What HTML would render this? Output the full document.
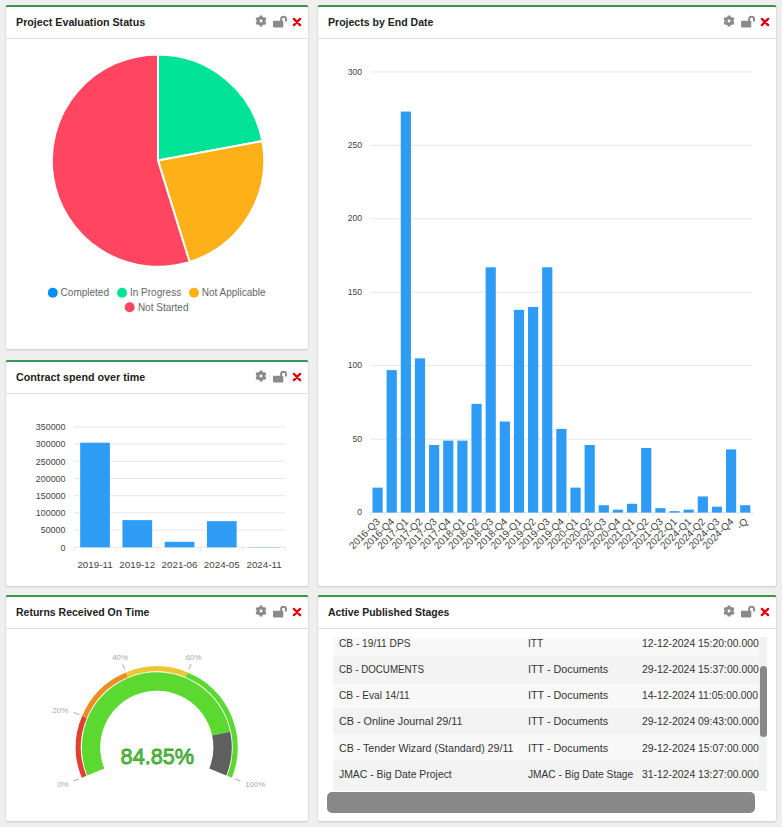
<!DOCTYPE html>
<html><head><meta charset="utf-8">
<style>
html,body{margin:0;padding:0;}
body{width:782px;height:827px;background:#efefef;position:relative;overflow:hidden;font-family:"Liberation Sans",sans-serif;}
.panel{position:absolute;box-sizing:border-box;background:#fff;border:1px solid #dedede;border-bottom-color:#d2d2d2;border-top:2px solid #3a964e;border-radius:3px;box-shadow:0 1px 1px rgba(0,0,0,0.05);}
.hdr{position:absolute;left:0;right:0;top:0;height:31px;border-bottom:1px solid #dddddd;}
.ttl{position:absolute;left:10.2px;top:9px;transform-origin:0 0;font-size:11px;font-weight:bold;color:#222;white-space:nowrap;line-height:13px;}
.ico{position:absolute;top:0;}
.ov{position:absolute;left:0;top:0;}
.tbl{position:absolute;left:333px;top:637px;width:426px;height:154px;overflow:hidden;}
.row{position:absolute;left:0;height:26.2px;width:426px;font-size:10.5px;color:#333;}
.row span{position:absolute;top:0;line-height:26.2px;white-space:nowrap;transform-origin:0 0;}
.c1{left:0;width:191px;}
.c2{left:191px;width:111px;}
.c3{left:302px;width:140px;}
.cell{position:absolute;top:0;height:26.2px;}
</style></head><body>
<!-- panels -->
<div class="panel" style="left:5px;top:5px;width:304px;height:345px;"><div class="hdr"></div><div class="ttl" style="transform:scaleX(0.974)">Project Evaluation Status</div></div>
<div class="panel" style="left:317px;top:5px;width:460px;height:582px;"><div class="hdr"></div><div class="ttl" style="transform:scaleX(0.958)">Projects by End Date</div></div>
<div class="panel" style="left:5px;top:360px;width:304px;height:227px;"><div class="hdr"></div><div class="ttl" style="transform:scaleX(0.974)">Contract spend over time</div></div>
<div class="panel" style="left:5px;top:595px;width:304px;height:227px;"><div class="hdr"></div><div class="ttl" style="transform:scaleX(0.954)">Returns Received On Time</div></div>
<div class="panel" style="left:317px;top:595px;width:460px;height:227px;"><div class="hdr"></div><div class="ttl" style="transform:scaleX(0.949)">Active Published Stages</div></div>
<svg class="ico" style="left:253.85px;top:14.45px" width="14" height="14" viewBox="-7 -7 14 14"><path d="M-1.83,-4.11 L-1.47,-4.25 L-1.38,-5.53 L1.38,-5.53 L1.47,-4.25 L1.83,-4.11 L2.65,-3.64 L2.95,-3.40 L4.10,-3.96 L5.48,-1.57 L4.42,-0.86 L4.48,-0.47 L4.48,0.47 L4.42,0.86 L5.48,1.57 L4.10,3.96 L2.95,3.40 L2.65,3.64 L1.83,4.11 L1.47,4.25 L1.38,5.53 L-1.38,5.53 L-1.47,4.25 L-1.83,4.11 L-2.65,3.64 L-2.95,3.40 L-4.10,3.96 L-5.48,1.57 L-4.42,0.86 L-4.48,0.47 L-4.48,-0.47 L-4.42,-0.86 L-5.48,-1.57 L-4.10,-3.96 L-2.95,-3.40 L-2.65,-3.64Z M1.45,0 A1.45,1.45 0 1 0 -1.45,0 A1.45,1.45 0 1 0 1.45,0Z" fill="#8a8a8a" fill-rule="evenodd"/></svg>
<svg class="ico" style="left:273.20px;top:14.45px" width="16" height="14" viewBox="0 0 16 14"><rect x="0" y="6.8" width="10.3" height="6.6" rx="0.8" fill="#8a8a8a"/><path d="M8.1 7 V5.3 A2.45 2.45 0 0 1 13.0 5.3 V7.6" fill="none" stroke="#8a8a8a" stroke-width="2"/></svg>
<svg class="ico" style="left:292.00px;top:16.85px" width="10" height="10" viewBox="0 0 10 10"><path d="M1.9 1.9 L8.1 8.1 M8.1 1.9 L1.9 8.1" stroke="#e5000f" stroke-width="2.3" stroke-linecap="round"/></svg><svg class="ico" style="left:721.85px;top:14.45px" width="14" height="14" viewBox="-7 -7 14 14"><path d="M-1.83,-4.11 L-1.47,-4.25 L-1.38,-5.53 L1.38,-5.53 L1.47,-4.25 L1.83,-4.11 L2.65,-3.64 L2.95,-3.40 L4.10,-3.96 L5.48,-1.57 L4.42,-0.86 L4.48,-0.47 L4.48,0.47 L4.42,0.86 L5.48,1.57 L4.10,3.96 L2.95,3.40 L2.65,3.64 L1.83,4.11 L1.47,4.25 L1.38,5.53 L-1.38,5.53 L-1.47,4.25 L-1.83,4.11 L-2.65,3.64 L-2.95,3.40 L-4.10,3.96 L-5.48,1.57 L-4.42,0.86 L-4.48,0.47 L-4.48,-0.47 L-4.42,-0.86 L-5.48,-1.57 L-4.10,-3.96 L-2.95,-3.40 L-2.65,-3.64Z M1.45,0 A1.45,1.45 0 1 0 -1.45,0 A1.45,1.45 0 1 0 1.45,0Z" fill="#8a8a8a" fill-rule="evenodd"/></svg>
<svg class="ico" style="left:741.20px;top:14.45px" width="16" height="14" viewBox="0 0 16 14"><rect x="0" y="6.8" width="10.3" height="6.6" rx="0.8" fill="#8a8a8a"/><path d="M8.1 7 V5.3 A2.45 2.45 0 0 1 13.0 5.3 V7.6" fill="none" stroke="#8a8a8a" stroke-width="2"/></svg>
<svg class="ico" style="left:760.00px;top:16.85px" width="10" height="10" viewBox="0 0 10 10"><path d="M1.9 1.9 L8.1 8.1 M8.1 1.9 L1.9 8.1" stroke="#e5000f" stroke-width="2.3" stroke-linecap="round"/></svg><svg class="ico" style="left:253.85px;top:369.45px" width="14" height="14" viewBox="-7 -7 14 14"><path d="M-1.83,-4.11 L-1.47,-4.25 L-1.38,-5.53 L1.38,-5.53 L1.47,-4.25 L1.83,-4.11 L2.65,-3.64 L2.95,-3.40 L4.10,-3.96 L5.48,-1.57 L4.42,-0.86 L4.48,-0.47 L4.48,0.47 L4.42,0.86 L5.48,1.57 L4.10,3.96 L2.95,3.40 L2.65,3.64 L1.83,4.11 L1.47,4.25 L1.38,5.53 L-1.38,5.53 L-1.47,4.25 L-1.83,4.11 L-2.65,3.64 L-2.95,3.40 L-4.10,3.96 L-5.48,1.57 L-4.42,0.86 L-4.48,0.47 L-4.48,-0.47 L-4.42,-0.86 L-5.48,-1.57 L-4.10,-3.96 L-2.95,-3.40 L-2.65,-3.64Z M1.45,0 A1.45,1.45 0 1 0 -1.45,0 A1.45,1.45 0 1 0 1.45,0Z" fill="#8a8a8a" fill-rule="evenodd"/></svg>
<svg class="ico" style="left:273.20px;top:369.45px" width="16" height="14" viewBox="0 0 16 14"><rect x="0" y="6.8" width="10.3" height="6.6" rx="0.8" fill="#8a8a8a"/><path d="M8.1 7 V5.3 A2.45 2.45 0 0 1 13.0 5.3 V7.6" fill="none" stroke="#8a8a8a" stroke-width="2"/></svg>
<svg class="ico" style="left:292.00px;top:371.85px" width="10" height="10" viewBox="0 0 10 10"><path d="M1.9 1.9 L8.1 8.1 M8.1 1.9 L1.9 8.1" stroke="#e5000f" stroke-width="2.3" stroke-linecap="round"/></svg><svg class="ico" style="left:253.85px;top:604.45px" width="14" height="14" viewBox="-7 -7 14 14"><path d="M-1.83,-4.11 L-1.47,-4.25 L-1.38,-5.53 L1.38,-5.53 L1.47,-4.25 L1.83,-4.11 L2.65,-3.64 L2.95,-3.40 L4.10,-3.96 L5.48,-1.57 L4.42,-0.86 L4.48,-0.47 L4.48,0.47 L4.42,0.86 L5.48,1.57 L4.10,3.96 L2.95,3.40 L2.65,3.64 L1.83,4.11 L1.47,4.25 L1.38,5.53 L-1.38,5.53 L-1.47,4.25 L-1.83,4.11 L-2.65,3.64 L-2.95,3.40 L-4.10,3.96 L-5.48,1.57 L-4.42,0.86 L-4.48,0.47 L-4.48,-0.47 L-4.42,-0.86 L-5.48,-1.57 L-4.10,-3.96 L-2.95,-3.40 L-2.65,-3.64Z M1.45,0 A1.45,1.45 0 1 0 -1.45,0 A1.45,1.45 0 1 0 1.45,0Z" fill="#8a8a8a" fill-rule="evenodd"/></svg>
<svg class="ico" style="left:273.20px;top:604.45px" width="16" height="14" viewBox="0 0 16 14"><rect x="0" y="6.8" width="10.3" height="6.6" rx="0.8" fill="#8a8a8a"/><path d="M8.1 7 V5.3 A2.45 2.45 0 0 1 13.0 5.3 V7.6" fill="none" stroke="#8a8a8a" stroke-width="2"/></svg>
<svg class="ico" style="left:292.00px;top:606.85px" width="10" height="10" viewBox="0 0 10 10"><path d="M1.9 1.9 L8.1 8.1 M8.1 1.9 L1.9 8.1" stroke="#e5000f" stroke-width="2.3" stroke-linecap="round"/></svg><svg class="ico" style="left:721.85px;top:604.45px" width="14" height="14" viewBox="-7 -7 14 14"><path d="M-1.83,-4.11 L-1.47,-4.25 L-1.38,-5.53 L1.38,-5.53 L1.47,-4.25 L1.83,-4.11 L2.65,-3.64 L2.95,-3.40 L4.10,-3.96 L5.48,-1.57 L4.42,-0.86 L4.48,-0.47 L4.48,0.47 L4.42,0.86 L5.48,1.57 L4.10,3.96 L2.95,3.40 L2.65,3.64 L1.83,4.11 L1.47,4.25 L1.38,5.53 L-1.38,5.53 L-1.47,4.25 L-1.83,4.11 L-2.65,3.64 L-2.95,3.40 L-4.10,3.96 L-5.48,1.57 L-4.42,0.86 L-4.48,0.47 L-4.48,-0.47 L-4.42,-0.86 L-5.48,-1.57 L-4.10,-3.96 L-2.95,-3.40 L-2.65,-3.64Z M1.45,0 A1.45,1.45 0 1 0 -1.45,0 A1.45,1.45 0 1 0 1.45,0Z" fill="#8a8a8a" fill-rule="evenodd"/></svg>
<svg class="ico" style="left:741.20px;top:604.45px" width="16" height="14" viewBox="0 0 16 14"><rect x="0" y="6.8" width="10.3" height="6.6" rx="0.8" fill="#8a8a8a"/><path d="M8.1 7 V5.3 A2.45 2.45 0 0 1 13.0 5.3 V7.6" fill="none" stroke="#8a8a8a" stroke-width="2"/></svg>
<svg class="ico" style="left:760.00px;top:606.85px" width="10" height="10" viewBox="0 0 10 10"><path d="M1.9 1.9 L8.1 8.1 M8.1 1.9 L1.9 8.1" stroke="#e5000f" stroke-width="2.3" stroke-linecap="round"/></svg>
<!-- table -->
<div class="tbl">
<div class="row" style="top:-7.40px;height:26.3px;background:#f9f9f9"><span style="top:0.80px;left:5.6px;transform:scaleX(0.966)">CB - 19/11 DPS</span><span style="top:0.80px;left:195.4px;transform:scaleX(0.967)">ITT</span><span style="top:0.80px;left:309.2px;transform:scaleX(0.99)">12-12-2024 15:20:00.000</span></div>
<div class="row" style="top:18.90px;height:28.1px;background:#f3f3f3"><span style="top:0.30px;left:5.6px;transform:scaleX(0.928)">CB - DOCUMENTS</span><span style="top:0.30px;left:195.4px;transform:scaleX(1.027)">ITT - Documents</span><span style="top:0.30px;left:309.2px;transform:scaleX(0.99)">29-12-2024 15:37:00.000</span></div>
<div class="row" style="top:47.00px;height:24.3px;background:#f9f9f9"><span style="top:-1.60px;left:5.6px;transform:scaleX(0.971)">CB - Eval 14/11</span><span style="top:-1.60px;left:195.4px;transform:scaleX(1.027)">ITT - Documents</span><span style="top:-1.60px;left:309.2px;transform:scaleX(0.99)">14-12-2024 11:05:00.000</span></div>
<div class="row" style="top:71.30px;height:27.1px;background:#f3f3f3"><span style="top:0.20px;left:5.6px;transform:scaleX(1.029)">CB - Online Journal 29/11</span><span style="top:0.20px;left:195.4px;transform:scaleX(1.027)">ITT - Documents</span><span style="top:0.20px;left:309.2px;transform:scaleX(0.99)">29-12-2024 09:43:00.000</span></div>
<div class="row" style="top:98.40px;height:24.8px;background:#f9f9f9"><span style="top:-0.30px;left:5.6px;transform:scaleX(1.012)">CB - Tender Wizard (Standard) 29/11</span><span style="top:-0.30px;left:195.4px;transform:scaleX(1.027)">ITT - Documents</span><span style="top:-0.30px;left:309.2px;transform:scaleX(0.99)">29-12-2024 15:07:00.000</span></div>
<div class="row" style="top:123.20px;height:35px;background:#f3f3f3"><span style="top:1.00px;left:5.6px;transform:scaleX(0.991)">JMAC - Big Date Project</span><span style="top:1.00px;left:195.4px;transform:scaleX(0.969)">JMAC - Big Date Stage</span><span style="top:1.00px;left:309.2px;transform:scaleX(0.99)">31-12-2024 13:27:00.000</span></div>

</div>
<div style="position:absolute;left:759px;top:637px;width:8px;height:154px;background:#f1f1f1;"></div>
<div style="position:absolute;left:759.5px;top:666px;width:7.5px;height:71px;background:#888;border-radius:4px;"></div>
<div style="position:absolute;left:327px;top:792px;width:428px;height:21px;background:#888;border-radius:5px;"></div>
<svg class="ov" width="782" height="827" viewBox="0 0 782 827" style="font-family:'Liberation Sans', sans-serif"><path d="M158.0,160.6 L158.00,54.40 A106.2,106.2 0 0 1 262.39,141.06 Z" fill="#00E396" stroke="#fff" stroke-width="2" stroke-linejoin="round"/>
<path d="M158.0,160.6 L262.39,141.06 A106.2,106.2 0 0 1 189.58,262.00 Z" fill="#FEB019" stroke="#fff" stroke-width="2" stroke-linejoin="round"/>
<path d="M158.0,160.6 L189.58,262.00 A106.2,106.2 0 1 1 158.00,54.40 Z" fill="#FF4560" stroke="#fff" stroke-width="2" stroke-linejoin="round"/>
<circle cx="52.8" cy="292.7" r="5" fill="#008FFB"/>
<text x="60.6" y="296.3" font-size="10" fill="#666">Completed</text>
<circle cx="122.1" cy="292.7" r="5" fill="#00E396"/>
<text x="130" y="296.3" font-size="10" fill="#666">In Progress</text>
<circle cx="194" cy="292.7" r="5" fill="#FEB019"/>
<text x="201.7" y="296.3" font-size="10" fill="#666">Not Applicable</text>
<circle cx="129.7" cy="307.2" r="5" fill="#FF4560"/>
<text x="137.9" y="310.8" font-size="10" fill="#666">Not Started</text>
<line x1="370.5" y1="512.60" x2="752.3" y2="512.60" stroke="#e6e6e6" stroke-width="1"/>
<text x="362.2" y="515.20" font-size="9.4" fill="#444" text-anchor="end" textLength="4.85" lengthAdjust="spacingAndGlyphs">0</text>
<line x1="370.5" y1="439.15" x2="752.3" y2="439.15" stroke="#e6e6e6" stroke-width="1"/>
<text x="362.2" y="441.75" font-size="9.4" fill="#444" text-anchor="end" textLength="9.70" lengthAdjust="spacingAndGlyphs">50</text>
<line x1="370.5" y1="365.70" x2="752.3" y2="365.70" stroke="#e6e6e6" stroke-width="1"/>
<text x="362.2" y="368.30" font-size="9.4" fill="#444" text-anchor="end" textLength="14.55" lengthAdjust="spacingAndGlyphs">100</text>
<line x1="370.5" y1="292.25" x2="752.3" y2="292.25" stroke="#e6e6e6" stroke-width="1"/>
<text x="362.2" y="294.85" font-size="9.4" fill="#444" text-anchor="end" textLength="14.55" lengthAdjust="spacingAndGlyphs">150</text>
<line x1="370.5" y1="218.80" x2="752.3" y2="218.80" stroke="#e6e6e6" stroke-width="1"/>
<text x="362.2" y="221.40" font-size="9.4" fill="#444" text-anchor="end" textLength="14.55" lengthAdjust="spacingAndGlyphs">200</text>
<line x1="370.5" y1="145.35" x2="752.3" y2="145.35" stroke="#e6e6e6" stroke-width="1"/>
<text x="362.2" y="147.95" font-size="9.4" fill="#444" text-anchor="end" textLength="14.55" lengthAdjust="spacingAndGlyphs">250</text>
<line x1="370.5" y1="71.90" x2="752.3" y2="71.90" stroke="#e6e6e6" stroke-width="1"/>
<text x="362.2" y="74.50" font-size="9.4" fill="#444" text-anchor="end" textLength="14.55" lengthAdjust="spacingAndGlyphs">300</text>
<line x1="370.50" y1="512.6" x2="370.50" y2="515.6" stroke="#e6e6e6" stroke-width="1"/>
<line x1="384.64" y1="512.6" x2="384.64" y2="515.6" stroke="#e6e6e6" stroke-width="1"/>
<line x1="398.78" y1="512.6" x2="398.78" y2="515.6" stroke="#e6e6e6" stroke-width="1"/>
<line x1="412.92" y1="512.6" x2="412.92" y2="515.6" stroke="#e6e6e6" stroke-width="1"/>
<line x1="427.06" y1="512.6" x2="427.06" y2="515.6" stroke="#e6e6e6" stroke-width="1"/>
<line x1="441.20" y1="512.6" x2="441.20" y2="515.6" stroke="#e6e6e6" stroke-width="1"/>
<line x1="455.34" y1="512.6" x2="455.34" y2="515.6" stroke="#e6e6e6" stroke-width="1"/>
<line x1="469.49" y1="512.6" x2="469.49" y2="515.6" stroke="#e6e6e6" stroke-width="1"/>
<line x1="483.63" y1="512.6" x2="483.63" y2="515.6" stroke="#e6e6e6" stroke-width="1"/>
<line x1="497.77" y1="512.6" x2="497.77" y2="515.6" stroke="#e6e6e6" stroke-width="1"/>
<line x1="511.91" y1="512.6" x2="511.91" y2="515.6" stroke="#e6e6e6" stroke-width="1"/>
<line x1="526.05" y1="512.6" x2="526.05" y2="515.6" stroke="#e6e6e6" stroke-width="1"/>
<line x1="540.19" y1="512.6" x2="540.19" y2="515.6" stroke="#e6e6e6" stroke-width="1"/>
<line x1="554.33" y1="512.6" x2="554.33" y2="515.6" stroke="#e6e6e6" stroke-width="1"/>
<line x1="568.47" y1="512.6" x2="568.47" y2="515.6" stroke="#e6e6e6" stroke-width="1"/>
<line x1="582.61" y1="512.6" x2="582.61" y2="515.6" stroke="#e6e6e6" stroke-width="1"/>
<line x1="596.75" y1="512.6" x2="596.75" y2="515.6" stroke="#e6e6e6" stroke-width="1"/>
<line x1="610.89" y1="512.6" x2="610.89" y2="515.6" stroke="#e6e6e6" stroke-width="1"/>
<line x1="625.03" y1="512.6" x2="625.03" y2="515.6" stroke="#e6e6e6" stroke-width="1"/>
<line x1="639.17" y1="512.6" x2="639.17" y2="515.6" stroke="#e6e6e6" stroke-width="1"/>
<line x1="653.31" y1="512.6" x2="653.31" y2="515.6" stroke="#e6e6e6" stroke-width="1"/>
<line x1="667.46" y1="512.6" x2="667.46" y2="515.6" stroke="#e6e6e6" stroke-width="1"/>
<line x1="681.60" y1="512.6" x2="681.60" y2="515.6" stroke="#e6e6e6" stroke-width="1"/>
<line x1="695.74" y1="512.6" x2="695.74" y2="515.6" stroke="#e6e6e6" stroke-width="1"/>
<line x1="709.88" y1="512.6" x2="709.88" y2="515.6" stroke="#e6e6e6" stroke-width="1"/>
<line x1="724.02" y1="512.6" x2="724.02" y2="515.6" stroke="#e6e6e6" stroke-width="1"/>
<line x1="738.16" y1="512.6" x2="738.16" y2="515.6" stroke="#e6e6e6" stroke-width="1"/>
<line x1="752.30" y1="512.6" x2="752.30" y2="515.6" stroke="#e6e6e6" stroke-width="1"/>
<rect x="372.48" y="487.63" width="10.18" height="24.97" fill="#2E9BF5"/>
<text transform="translate(380.77,522.20) rotate(-45)" font-size="10" fill="#444" text-anchor="end">2016-Q3</text>
<rect x="386.62" y="370.11" width="10.18" height="142.49" fill="#2E9BF5"/>
<text transform="translate(394.91,522.20) rotate(-45)" font-size="10" fill="#444" text-anchor="end">2016-Q4</text>
<rect x="400.76" y="111.56" width="10.18" height="401.04" fill="#2E9BF5"/>
<text transform="translate(409.05,522.20) rotate(-45)" font-size="10" fill="#444" text-anchor="end">2017-Q1</text>
<rect x="414.90" y="358.36" width="10.18" height="154.25" fill="#2E9BF5"/>
<text transform="translate(423.19,522.20) rotate(-45)" font-size="10" fill="#444" text-anchor="end">2017-Q2</text>
<rect x="429.04" y="445.03" width="10.18" height="67.57" fill="#2E9BF5"/>
<text transform="translate(437.33,522.20) rotate(-45)" font-size="10" fill="#444" text-anchor="end">2017-Q3</text>
<rect x="443.18" y="440.62" width="10.18" height="71.98" fill="#2E9BF5"/>
<text transform="translate(451.47,522.20) rotate(-45)" font-size="10" fill="#444" text-anchor="end">2017-Q4</text>
<rect x="457.32" y="440.62" width="10.18" height="71.98" fill="#2E9BF5"/>
<text transform="translate(465.61,522.20) rotate(-45)" font-size="10" fill="#444" text-anchor="end">2018-Q1</text>
<rect x="471.46" y="403.89" width="10.18" height="108.71" fill="#2E9BF5"/>
<text transform="translate(479.76,522.20) rotate(-45)" font-size="10" fill="#444" text-anchor="end">2018-Q2</text>
<rect x="485.61" y="267.28" width="10.18" height="245.32" fill="#2E9BF5"/>
<text transform="translate(493.90,522.20) rotate(-45)" font-size="10" fill="#444" text-anchor="end">2018-Q3</text>
<rect x="499.75" y="421.52" width="10.18" height="91.08" fill="#2E9BF5"/>
<text transform="translate(508.04,522.20) rotate(-45)" font-size="10" fill="#444" text-anchor="end">2018-Q4</text>
<rect x="513.89" y="309.88" width="10.18" height="202.72" fill="#2E9BF5"/>
<text transform="translate(522.18,522.20) rotate(-45)" font-size="10" fill="#444" text-anchor="end">2019-Q1</text>
<rect x="528.03" y="306.94" width="10.18" height="205.66" fill="#2E9BF5"/>
<text transform="translate(536.32,522.20) rotate(-45)" font-size="10" fill="#444" text-anchor="end">2019-Q2</text>
<rect x="542.17" y="267.28" width="10.18" height="245.32" fill="#2E9BF5"/>
<text transform="translate(550.46,522.20) rotate(-45)" font-size="10" fill="#444" text-anchor="end">2019-Q3</text>
<rect x="556.31" y="428.87" width="10.18" height="83.73" fill="#2E9BF5"/>
<text transform="translate(564.60,522.20) rotate(-45)" font-size="10" fill="#444" text-anchor="end">2019-Q4</text>
<rect x="570.45" y="487.63" width="10.18" height="24.97" fill="#2E9BF5"/>
<text transform="translate(578.74,522.20) rotate(-45)" font-size="10" fill="#444" text-anchor="end">2020-Q1</text>
<rect x="584.59" y="445.03" width="10.18" height="67.57" fill="#2E9BF5"/>
<text transform="translate(592.88,522.20) rotate(-45)" font-size="10" fill="#444" text-anchor="end">2020-Q2</text>
<rect x="598.73" y="505.25" width="10.18" height="7.35" fill="#2E9BF5"/>
<text transform="translate(607.02,522.20) rotate(-45)" font-size="10" fill="#444" text-anchor="end">2020-Q3</text>
<rect x="612.87" y="509.66" width="10.18" height="2.94" fill="#2E9BF5"/>
<text transform="translate(621.16,522.20) rotate(-45)" font-size="10" fill="#444" text-anchor="end">2020-Q4</text>
<rect x="627.01" y="503.79" width="10.18" height="8.81" fill="#2E9BF5"/>
<text transform="translate(635.30,522.20) rotate(-45)" font-size="10" fill="#444" text-anchor="end">2021-Q1</text>
<rect x="641.15" y="447.96" width="10.18" height="64.64" fill="#2E9BF5"/>
<text transform="translate(649.44,522.20) rotate(-45)" font-size="10" fill="#444" text-anchor="end">2021-Q2</text>
<rect x="655.29" y="508.19" width="10.18" height="4.41" fill="#2E9BF5"/>
<text transform="translate(663.59,522.20) rotate(-45)" font-size="10" fill="#444" text-anchor="end">2021-Q3</text>
<rect x="669.44" y="511.13" width="10.18" height="1.47" fill="#2E9BF5"/>
<text transform="translate(677.73,522.20) rotate(-45)" font-size="10" fill="#444" text-anchor="end">2022-Q1</text>
<rect x="683.58" y="509.66" width="10.18" height="2.94" fill="#2E9BF5"/>
<text transform="translate(691.87,522.20) rotate(-45)" font-size="10" fill="#444" text-anchor="end">2024-Q1</text>
<rect x="697.72" y="496.44" width="10.18" height="16.16" fill="#2E9BF5"/>
<text transform="translate(706.01,522.20) rotate(-45)" font-size="10" fill="#444" text-anchor="end">2024-Q2</text>
<rect x="711.86" y="506.72" width="10.18" height="5.88" fill="#2E9BF5"/>
<text transform="translate(720.15,522.20) rotate(-45)" font-size="10" fill="#444" text-anchor="end">2024-Q3</text>
<rect x="726.00" y="449.43" width="10.18" height="63.17" fill="#2E9BF5"/>
<text transform="translate(734.29,522.20) rotate(-45)" font-size="10" fill="#444" text-anchor="end">2024-Q4</text>
<rect x="740.14" y="505.25" width="10.18" height="7.35" fill="#2E9BF5"/>
<text transform="translate(748.43,522.20) rotate(-45)" font-size="10" fill="#444" text-anchor="end">-Q</text>
<line x1="73.9" y1="547.30" x2="285.2" y2="547.30" stroke="#e6e6e6" stroke-width="1"/>
<text x="65.5" y="550.60" font-size="9.6" fill="#444" text-anchor="end" textLength="5.0" lengthAdjust="spacingAndGlyphs">0</text>
<line x1="73.9" y1="530.10" x2="285.2" y2="530.10" stroke="#e6e6e6" stroke-width="1"/>
<text x="65.5" y="533.40" font-size="9.6" fill="#444" text-anchor="end" textLength="24.8" lengthAdjust="spacingAndGlyphs">50000</text>
<line x1="73.9" y1="512.90" x2="285.2" y2="512.90" stroke="#e6e6e6" stroke-width="1"/>
<text x="65.5" y="516.20" font-size="9.6" fill="#444" text-anchor="end" textLength="29.7" lengthAdjust="spacingAndGlyphs">100000</text>
<line x1="73.9" y1="495.70" x2="285.2" y2="495.70" stroke="#e6e6e6" stroke-width="1"/>
<text x="65.5" y="499.00" font-size="9.6" fill="#444" text-anchor="end" textLength="29.7" lengthAdjust="spacingAndGlyphs">150000</text>
<line x1="73.9" y1="478.50" x2="285.2" y2="478.50" stroke="#e6e6e6" stroke-width="1"/>
<text x="65.5" y="481.80" font-size="9.6" fill="#444" text-anchor="end" textLength="29.7" lengthAdjust="spacingAndGlyphs">200000</text>
<line x1="73.9" y1="461.30" x2="285.2" y2="461.30" stroke="#e6e6e6" stroke-width="1"/>
<text x="65.5" y="464.60" font-size="9.6" fill="#444" text-anchor="end" textLength="29.7" lengthAdjust="spacingAndGlyphs">250000</text>
<line x1="73.9" y1="444.10" x2="285.2" y2="444.10" stroke="#e6e6e6" stroke-width="1"/>
<text x="65.5" y="447.40" font-size="9.6" fill="#444" text-anchor="end" textLength="29.7" lengthAdjust="spacingAndGlyphs">300000</text>
<line x1="73.9" y1="426.90" x2="285.2" y2="426.90" stroke="#e6e6e6" stroke-width="1"/>
<text x="65.5" y="430.20" font-size="9.6" fill="#444" text-anchor="end" textLength="29.7" lengthAdjust="spacingAndGlyphs">350000</text>
<line x1="73.90" y1="547.3" x2="73.90" y2="551.3" stroke="#e6e6e6" stroke-width="1"/>
<line x1="116.16" y1="547.3" x2="116.16" y2="551.3" stroke="#e6e6e6" stroke-width="1"/>
<line x1="158.42" y1="547.3" x2="158.42" y2="551.3" stroke="#e6e6e6" stroke-width="1"/>
<line x1="200.68" y1="547.3" x2="200.68" y2="551.3" stroke="#e6e6e6" stroke-width="1"/>
<line x1="242.94" y1="547.3" x2="242.94" y2="551.3" stroke="#e6e6e6" stroke-width="1"/>
<line x1="285.20" y1="547.3" x2="285.20" y2="551.3" stroke="#e6e6e6" stroke-width="1"/>
<rect x="80.18" y="442.72" width="29.70" height="104.58" fill="#2E9BF5"/>
<text x="95.03" y="568.10" font-size="9.8" fill="#444" text-anchor="middle">2019-11</text>
<rect x="122.44" y="520.12" width="29.70" height="27.18" fill="#2E9BF5"/>
<text x="137.29" y="568.10" font-size="9.8" fill="#444" text-anchor="middle">2019-12</text>
<rect x="164.70" y="541.80" width="29.70" height="5.50" fill="#2E9BF5"/>
<text x="179.55" y="568.10" font-size="9.8" fill="#444" text-anchor="middle">2021-06</text>
<rect x="206.96" y="521.16" width="29.70" height="26.14" fill="#2E9BF5"/>
<text x="221.81" y="568.10" font-size="9.8" fill="#444" text-anchor="middle">2024-05</text>
<rect x="249.22" y="547.02" width="29.70" height="0.28" fill="#2E9BF5"/>
<text x="264.07" y="568.10" font-size="9.8" fill="#444" text-anchor="middle">2024-11</text>
<path d="M81.70,777.64 A81.0,81.0 0 0 1 82.13,715.91 L86.83,717.89 A75.9,75.9 0 0 0 86.43,775.73 Z" fill="#E0402D"/>
<path d="M82.13,715.91 A81.0,81.0 0 0 1 125.93,672.41 L127.88,677.13 A75.9,75.9 0 0 0 86.83,717.89 Z" fill="#EE8E22"/>
<path d="M125.93,672.41 A81.0,81.0 0 0 1 187.67,672.41 L185.72,677.13 A75.9,75.9 0 0 0 127.88,677.13 Z" fill="#F0C535"/>
<path d="M187.67,672.41 A81.0,81.0 0 0 1 231.90,777.64 L227.17,775.73 A75.9,75.9 0 0 0 185.72,677.13 Z" fill="#5CD931"/>
<path d="M87.26,775.40 A75.0,75.0 0 1 1 230.18,731.79 L212.18,735.59 A56.6,56.6 0 1 0 104.32,768.50 Z" fill="#5CD931"/>
<path d="M230.18,731.79 A75.0,75.0 0 0 1 226.34,775.40 L209.28,768.50 A56.6,56.6 0 0 0 212.18,735.59 Z" fill="#5F5F5F"/>
<line x1="78.92" y1="778.77" x2="73.35" y2="781.01" stroke="#b5b5b5" stroke-width="1.1"/>
<text x="68.70" y="787.10" font-size="7.8" fill="#a8a8a8" text-anchor="end">0%</text>
<line x1="79.36" y1="714.75" x2="73.83" y2="712.42" stroke="#b5b5b5" stroke-width="1.1"/>
<text x="68.10" y="712.80" font-size="7.8" fill="#a8a8a8" text-anchor="end">20%</text>
<line x1="124.79" y1="669.64" x2="122.50" y2="664.09" stroke="#b5b5b5" stroke-width="1.1"/>
<text x="120.10" y="660.10" font-size="7.8" fill="#a8a8a8" text-anchor="middle">40%</text>
<line x1="188.81" y1="669.64" x2="191.10" y2="664.09" stroke="#b5b5b5" stroke-width="1.1"/>
<text x="193.60" y="660.10" font-size="7.8" fill="#a8a8a8" text-anchor="middle">60%</text>
<line x1="234.68" y1="778.77" x2="240.25" y2="781.01" stroke="#b5b5b5" stroke-width="1.1"/>
<text x="245.20" y="787.20" font-size="7.8" fill="#a8a8a8" text-anchor="start">100%</text>
<text x="120.6" y="763.8" font-size="22" fill="#5AD440" stroke="#3c9a30" stroke-width="0.8" textLength="73.5" lengthAdjust="spacingAndGlyphs">84.85%</text></svg>
</body></html>
